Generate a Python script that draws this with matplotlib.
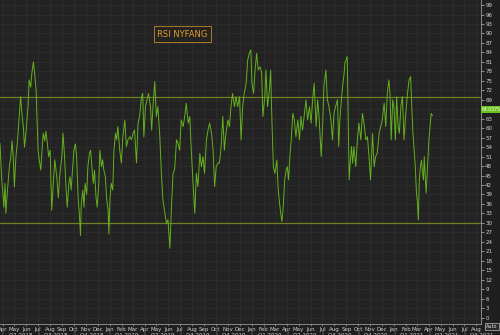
import numpy as np
import pandas as pd
import matplotlib
matplotlib.use("Agg")
import matplotlib.pyplot as plt
import matplotlib.transforms as mtransforms

# RSI of NYFANG (days counted from start_date)
start_date = "2018-03-25"
day_offsets = [
    0, 4, 10, 13, 15, 19, 24, 28, 31, 34, 37, 41, 45, 50, 53, 57, 60, 63, 67, 72,
    75, 79, 82, 86, 89, 93, 95, 98, 101, 105, 108, 111, 115, 118, 122, 125, 129, 133, 137, 141,
    146, 150, 154, 159, 162, 166, 170, 173, 177, 180, 183, 187, 190, 194, 197, 201, 204, 207, 209, 213,
    216, 219, 223, 226, 230, 233, 237, 240, 243, 247, 250, 254, 257, 261, 264, 267, 271, 274, 278, 280,
    283, 286, 290, 293, 297, 300, 303, 308, 312, 316, 321, 325, 329, 334, 338, 342, 346, 351, 355, 359,
    364, 367, 370, 374, 378, 382, 387, 390, 394, 398, 402, 406, 411, 415, 419, 424, 428, 432, 437, 441,
    445, 449, 454, 458, 462, 466, 471, 475, 479, 484, 488, 492, 496, 501, 505, 509, 514, 518, 522, 526,
    531, 535, 539, 544, 548, 552, 556, 561, 564, 568, 573, 577, 581, 586, 590, 594, 598, 603, 607, 611,
    616, 620, 624, 628, 633, 637, 641, 645, 648, 652, 656, 660, 664, 669, 673, 676, 681, 684, 688, 693,
    696, 699, 703, 707, 712, 715, 718, 722, 725, 729, 732, 736, 739, 742, 746, 749, 753, 757, 761, 766,
    770, 774, 778, 783, 787, 791, 796, 800, 804, 808, 813, 817, 821, 826, 830, 833, 838, 842, 846, 851,
    855, 859, 863, 868, 871, 874, 878, 881, 885, 887, 890, 893, 895, 898, 900, 904, 907, 910, 915, 919,
    923, 928, 932, 936, 941, 945, 949, 953, 958, 962, 966, 970, 975, 979, 983, 988, 992, 996, 1000, 1003,
    1006, 1010, 1013, 1017, 1020, 1024, 1027, 1031, 1035, 1039, 1043, 1048, 1052, 1056, 1059, 1062, 1065, 1068, 1071, 1073,
    1076, 1078, 1081, 1084, 1086, 1089, 1091, 1094, 1096, 1099, 1103, 1106, 1109, 1112,
]
rsi = [
    55.2, 44.6, 35.0, 42.5, 33.0, 40.0, 47.8, 51.0, 56.0, 51.0, 41.4, 51.0, 56.0, 64.7, 70.0, 63.7, 60.5, 54.0, 59.0, 66.8,
    75.3, 73.0, 77.4, 81.0, 77.4, 72.0, 63.7, 53.0, 50.0, 46.7, 53.0, 58.4, 56.0, 59.0, 55.0, 51.0, 53.0, 34.0, 42.5, 50.0,
    44.6, 38.0, 45.6, 51.0, 58.4, 51.0, 40.4, 35.0, 42.5, 44.6, 40.4, 47.8, 53.0, 55.0, 51.0, 38.0, 33.0, 26.0, 36.0, 40.4,
    35.0, 42.5, 39.0, 47.8, 52.0, 53.0, 46.7, 42.5, 46.7, 38.0, 35.0, 42.5, 53.0, 47.8, 50.0, 46.7, 44.6, 38.0, 34.0, 26.5,
    38.0, 42.5, 40.4, 53.0, 58.4, 56.3, 60.5, 53.0, 49.0, 57.3, 62.6, 54.2, 56.3, 57.3, 56.3, 58.4, 59.4, 49.0, 61.6, 63.7,
    70.0, 71.0, 57.3, 66.8, 69.0, 71.0, 66.8, 59.4, 67.9, 74.7, 63.7, 66.8, 57.3, 45.7, 37.3, 33.0, 29.9, 31.0, 22.0, 35.2,
    45.7, 46.8, 56.3, 55.2, 53.0, 62.6, 60.5, 63.7, 67.9, 61.6, 63.7, 53.0, 43.6, 33.0, 45.7, 41.5, 52.0, 47.8, 51.0, 45.7,
    56.3, 59.4, 61.6, 58.4, 53.0, 41.5, 47.8, 49.0, 48.9, 53.0, 63.7, 53.0, 58.4, 62.6, 60.5, 66.8, 71.0, 66.8, 70.0, 66.8,
    70.0, 56.3, 66.8, 71.0, 74.2, 81.6, 83.7, 84.8, 74.2, 71.0, 78.4, 83.7, 78.4, 79.5, 77.4, 63.7, 70.0, 78.4, 66.8, 72.1,
    78.4, 63.7, 47.8, 45.7, 49.9, 41.5, 37.3, 33.0, 30.4, 36.2, 43.6, 46.8, 47.8, 43.6, 52.0, 56.3, 64.7, 62.6, 57.3, 62.6,
    56.3, 63.7, 59.4, 64.7, 69.0, 62.6, 66.8, 61.6, 69.0, 74.2, 60.5, 69.0, 62.6, 51.0, 61.6, 73.2, 78.4, 69.0, 66.8, 62.6,
    56.3, 64.7, 66.8, 69.0, 54.2, 62.6, 69.0, 73.2, 77.4, 80.6, 81.6, 82.7, 66.8, 43.6, 47.8, 54.2, 48.9, 54.2, 47.8, 56.3,
    61.6, 56.3, 64.7, 61.6, 56.3, 57.3, 51.0, 43.6, 58.4, 47.8, 51.0, 52.0, 58.4, 60.5, 62.6, 67.9, 60.5, 71.0, 75.3, 71.0,
    56.3, 69.0, 66.8, 56.3, 70.0, 60.5, 58.4, 66.8, 70.0, 56.3, 63.7, 71.0, 75.3, 76.3, 66.8, 58.4, 53.0, 47.8, 39.4, 37.3,
    31.0, 42.6, 47.8, 49.9, 46.8, 43.6, 51.0, 43.6, 39.4, 46.8, 56.3, 60.5, 64.7, 64.0,
]
upper_level = 70
lower_level = 30
last_label = "64.0375"
title = "RSI NYFANG"

dates = pd.to_datetime(start_date) + pd.to_timedelta(day_offsets, unit="D")

bg = "#1f1f1f"
fig = plt.figure(figsize=(5, 3.35), dpi=100, facecolor=bg)
ax = fig.add_axes([0, 0.033, 0.962, 0.967])
ax.set_facecolor("#232323")

x0 = pd.Timestamp("2018-03-25")
x1 = pd.Timestamp("2021-08-13")
ax.set_xlim(x0, x1)
ax.set_ylim(-2.0, 100.6)

# grid: monthly verticals, every 3 units horizontally
months = pd.date_range("2018-04-01", "2021-08-01", freq="MS")
for m in months:
    ax.axvline(m, color="#303030", lw=0.6, zorder=0)
for v in range(0, 100, 3):
    ax.axhline(v, color="#2d2d2d", lw=0.6, zorder=0)

ax.axhline(upper_level, color="#6f7f22", lw=0.9, zorder=2)
ax.axhline(lower_level, color="#6f7f22", lw=0.9, zorder=2)
ax.plot(dates, rsi, color="#64b01e", lw=0.7, zorder=3)

# right axis (the 66 label sits under the last-value box)
ax.yaxis.tick_right()
yt = list(range(0, 100, 3))
ax.set_yticks(yt)
ax.set_yticklabels(["" if v == 66 else str(v) for v in yt])
ax.tick_params(axis="y", labelsize=4, colors="#bdbdbd", length=2, width=0.5, pad=1)
for lab in ax.get_yticklabels():
    lab.set_color("#d0d0d0")
for s in ["top", "left"]:
    ax.spines[s].set_visible(False)
ax.spines["right"].set_color("#9a9a9a")
ax.spines["right"].set_linewidth(0.6)
ax.spines["bottom"].set_color("#9a9a9a")
ax.spines["bottom"].set_linewidth(0.6)

# month ticks along the bottom
ax.set_xticks(months)
ax.set_xticklabels([m.strftime("%b") for m in months])
ax.tick_params(axis="x", labelsize=4, colors="#9a9a9a", length=1.5, width=0.5, pad=0.5)
for lab in ax.get_xticklabels():
    lab.set_color("#cfcfcf")

# quarter labels and separators
trans = mtransforms.blended_transform_factory(ax.transData, ax.transAxes)
quarters = pd.date_range("2018-01-01", "2021-10-01", freq="QS")
for q in quarters:
    q_end = q + pd.offsets.QuarterBegin(startingMonth=1)
    mid = q + (q_end - q) / 2
    qlabel = "Q%d %d" % ((q.month - 1) // 3 + 1, q.year)
    ax.text(mid, -0.033, qlabel, transform=trans, ha="center", va="center",
            fontsize=4, color="#cfcfcf", clip_on=False)
    if x0 < q < x1:
        ax.text(q, -0.028, "|", transform=trans, ha="center", va="center",
                fontsize=4, color="#9a9a9a", clip_on=False)

# title box
fig.text(0.365, 0.898, title, fontsize=6, color="#e49a2c", ha="center", va="center",
         bbox=dict(boxstyle="square,pad=0.45", fc="#232323", ec="#b07a25", lw=0.7))

# last value label on right axis
ax.text(1.002, 66.0, last_label, transform=mtransforms.blended_transform_factory(ax.transAxes, ax.transData),
        fontsize=3.3, color="white", ha="left", va="center", clip_on=False,
        bbox=dict(boxstyle="square,pad=0.2", fc="#6cc21a", ec="none"))

# Auto box
fig.text(0.984, 0.026, "Auto", fontsize=3.6, color="#e0e0e0", ha="center", va="center",
         bbox=dict(boxstyle="square,pad=0.2", fc="#2a2a2a", ec="#bbbbbb", lw=0.5))

fig.savefig("out.png", dpi=100, facecolor=bg)
